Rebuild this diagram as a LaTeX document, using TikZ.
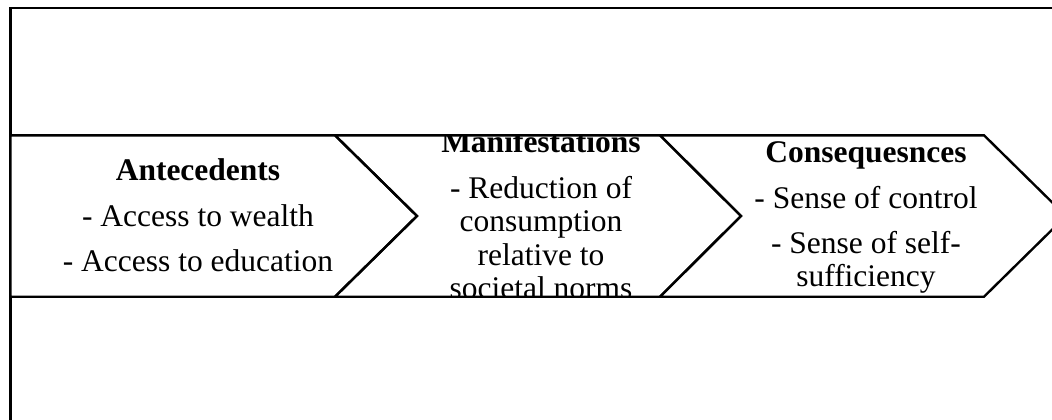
\documentclass[tikz,border=0pt]{standalone}
\usepackage{fontspec}
\setmainfont{Liberation Serif}
\begin{document}
\begin{tikzpicture}[x=1pt,y=-1pt,
  frameline/.style={line width=2.4pt, draw=black},
  chevfill/.style={fill=white, draw=none},
  chevline/.style={line width=2.4pt, draw=black, line join=miter},
  txt/.style={anchor=base, inner sep=0pt, font=\fontsize{31.5}{34}\selectfont},
  head/.style={anchor=base, inner sep=0pt, font=\fontsize{31.5}{34}\selectfont\bfseries}]
\useasboundingbox (0,0) rectangle (1052,420);
\clip (0,0) rectangle (1052,420);
% outer frame (runs past right and bottom edges)
\draw[frameline] (10.5,8.3) rectangle (1080,440);
% chevron fills
\fill[chevfill] (10.5,135.3) -- (335,135.3) -- (417,216) -- (335,296.7) -- (10.5,296.7) -- cycle;
\fill[chevfill] (335,135.3) -- (660,135.3) -- (741,216) -- (660,296.7) -- (335,296.7) -- (417,216) -- cycle;
\fill[chevfill] (660,135.3) -- (984,135.3) -- (1066,216) -- (984,296.7) -- (660,296.7) -- (741,216) -- cycle;
% texts, clipped to the band
\begin{scope}
\clip (10.5,135.3) rectangle (1066,296.7);
\node[head] (a0) at (198,180) {Antecedents};
\node[txt]  (a1) at (198,226) {- Access to wealth};
\node[txt]  (a2) at (198,271) {- Access to education};
\node[head] (m0) at (541,152.7) {Manifestations};
\node[txt]  (m1) at (541,198.3) {- Reduction of};
\node[txt]  (m2) at (541,231.7) {consumption};
\node[txt]  (m3) at (541,265) {relative to};
\node[txt]  (m4) at (541,298) {societal norms};
\node[head] (c0) at (866,162.7) {Consequesnces};
\node[txt]  (c1) at (866,208.3) {- Sense of control};
\node[txt]  (c2) at (866,253.3) {- Sense of self-};
\node[txt]  (c3) at (866,286.7) {sufficiency};
\end{scope}
% chevron outlines
\draw[chevline] (10.5,135.3) -- (335,135.3) -- (417,216) -- (335,296.7) -- (10.5,296.7) -- cycle;
\draw[chevline] (335,135.3) -- (660,135.3) -- (741,216) -- (660,296.7) -- (335,296.7) -- (417,216) -- cycle;
\draw[chevline] (660,135.3) -- (984,135.3) -- (1066,216) -- (984,296.7) -- (660,296.7) -- (741,216) -- cycle;
\end{tikzpicture}
\end{document}
